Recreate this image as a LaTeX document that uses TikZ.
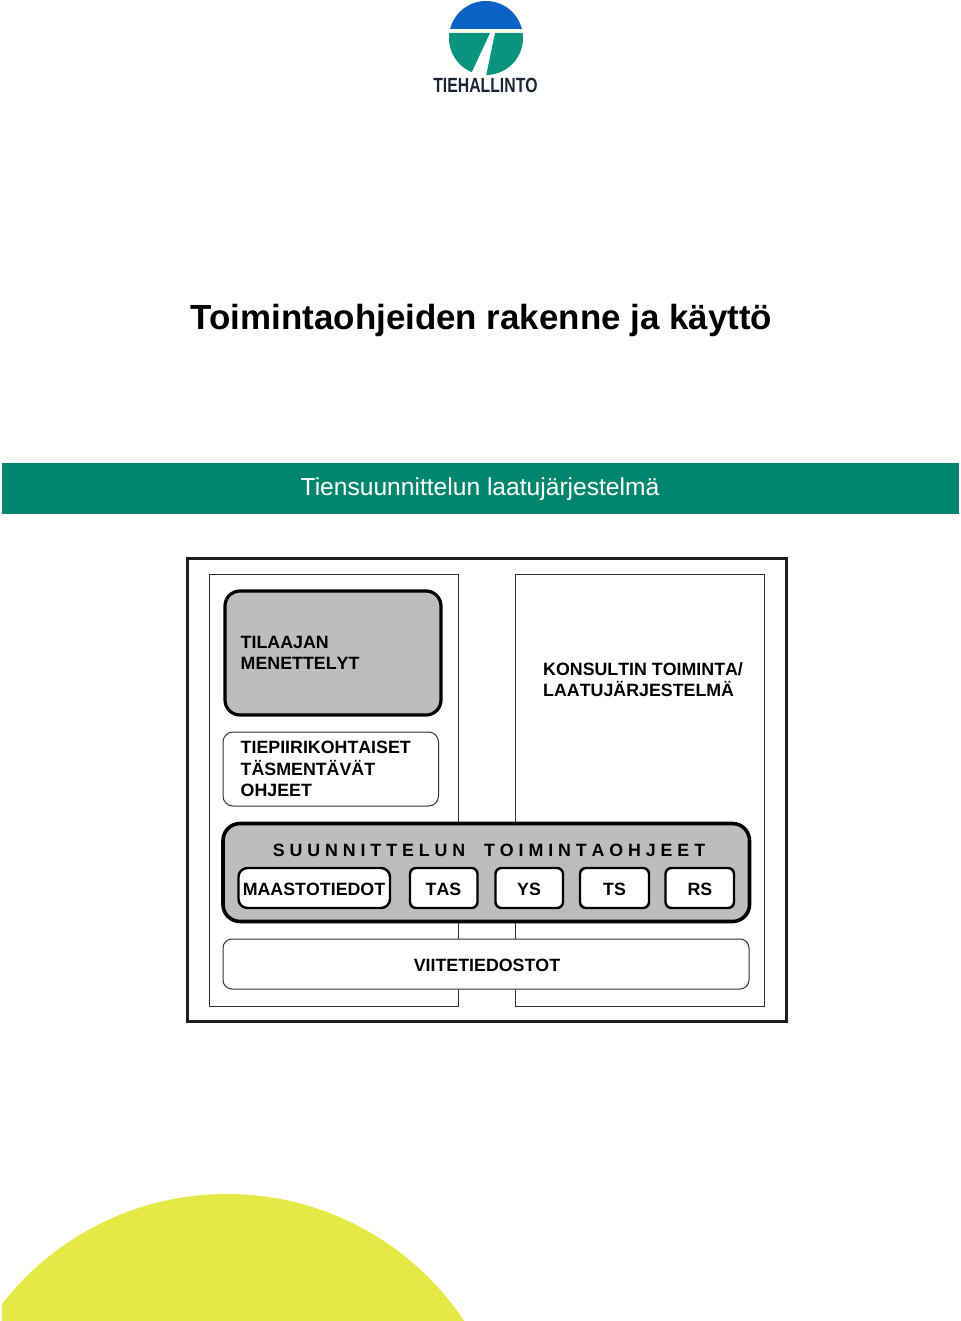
\documentclass[tikz,border=0pt]{standalone}
\usepackage{fontspec}
\setmainfont{Liberation Sans}[Kerning=Off]
\newfontfamily\kernfont{Liberation Sans}
\definecolor{bandteal}{HTML}{00866E}
\definecolor{logoblue}{HTML}{0A62C4}
\definecolor{logoteal}{HTML}{0A947E}
\definecolor{logonavy}{HTML}{1A2434}
\definecolor{sun}{HTML}{E4E945}
\definecolor{boxgrey}{HTML}{BDBDBD}
\definecolor{ink}{HTML}{333333}
\tikzset{
  x=1pt,y=-1pt,
  frameA/.style={draw=ink!60!black,line width=3pt,fill=white},
  frameB/.style={draw=ink,line width=1pt,fill=white},
  thickbox/.style={draw=black,line width=3.2pt,fill=boxgrey,rounded corners=15pt},
  thinbox/.style={draw=ink,line width=1pt,fill=white,rounded corners=10pt},
  tabbox/.style={draw=black,line width=2.4pt,fill=white,rounded corners=9pt},
  lab/.style={font=\fontsize{17.8}{21.5}\selectfont\bfseries,text=black,inner sep=0pt,align=left,anchor=north west},
  tablab/.style={font=\fontsize{17.8}{21.5}\selectfont\bfseries,text=black,inner sep=0pt,anchor=center},
}
\begin{document}
\begin{tikzpicture}
\useasboundingbox (0,0) rectangle (960,1321);
\fill[white] (0,0) rectangle (960,1321);
% logo
\begin{scope}
\clip (486,38) circle (37);
\fill[logoblue] (440,0) rectangle (530,29);
\fill[logoteal] (440,33) -- (490,33) -- (470,76) -- (440,76) -- cycle;
\fill[logoteal] (495,33) -- (530,33) -- (530,76) -- (486,76) -- cycle;
\end{scope}
\node[font=\fontsize{20.5}{20}\selectfont\bfseries,text=logonavy,inner sep=0pt] (logotext) at (485.5,85.5) {\scalebox{0.77}[1]{TIEHALLINTO}};
% title and band
\node[font=\kernfont\fontsize{34.9}{40}\selectfont\bfseries,inner sep=0pt] (title) at (481.5,320.5) {Toimintaohjeiden rakenne ja käyttö};
\fill[bandteal] (2,463) rectangle (959,514);
\node[font=\kernfont\fontsize{24.6}{28}\selectfont,text=white,inner sep=0pt] (band) at (480,489.5) {Tiensuunnittelun laatujärjestelmä};
% frames
\draw[frameA] (187.5,558.5) rectangle (786.5,1021.5);
\draw[frameB] (209,574) rectangle (458,1006);
\draw[frameB] (515,574) rectangle (764,1006);
% boxes
\draw[thickbox] (225,591) rectangle (441,715);
\node[lab] (tilaajan) at (240.5,636) {TILAAJAN\\MENETTELYT};
\node[lab] (konsultti) at (543,662) {KONSULTIN TOIMINTA/\\LAATUJÄRJESTELMÄ};
\draw[thinbox] (223,732) rectangle (438.5,806);
\node[lab] (tiepiiri) at (240.5,741) {TIEPIIRIKOHTAISET\\TÄSMENTÄVÄT\\OHJEET};
\draw[thickbox,line width=3.6pt,rounded corners=17pt] (223,823.5) rectangle (749.5,921.5);
\node[tablab] (suunn) at (489,850) {\spaceskip=4.9pt S U U N N I T T E L U N\hspace{19pt}T O I M I N T A O H J E E T};
\draw[tabbox] (238.5,868) rectangle (390,908);
\node[tablab] (maasto) at (314,889) {MAASTOTIEDOT};
\draw[tabbox,rounded corners=6pt] (410,868) rectangle (477.5,908);
\node[tablab] (tas) at (443.5,889) {TAS};
\draw[tabbox,rounded corners=6pt] (495.5,868) rectangle (563,908);
\node[tablab] (ys) at (529,889) {YS};
\draw[tabbox,rounded corners=6pt] (580,868) rectangle (649,908);
\node[tablab] (ts) at (614.5,889) {TS};
\draw[tabbox,rounded corners=6pt] (665.5,868) rectangle (734,908);
\node[tablab] (rs) at (700,889) {RS};
\draw[thinbox,rounded corners=9pt] (223,939) rectangle (749,989);
\node[tablab] (viite) at (487,965) {VIITETIEDOSTOT};
% sun
\begin{scope}
\clip (2,1150) rectangle (960,1321);
\fill[sun] (227,1479) circle (285);
\end{scope}
\end{tikzpicture}
\end{document}
